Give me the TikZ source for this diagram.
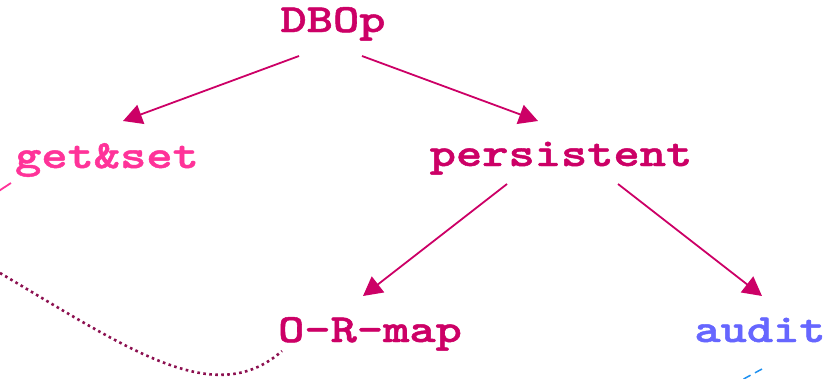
\documentclass[tikz,border=0pt]{standalone}
\usepackage{fontspec}
\usetikzlibrary{arrows.meta}
\newfontfamily\typew[FakeBold=1.1]{lmmonolt10-bold.otf}
\definecolor{deep}{RGB}{204,0,102}
\definecolor{pinkish}{RGB}{255,51,153}
\definecolor{lav}{RGB}{102,102,255}
\definecolor{maroon}{RGB}{140,16,80}
\definecolor{skyb}{RGB}{30,144,240}
% wide heavy typewriter lettering
\newcommand{\widetype}[1]{\scalebox{1.25}[1]{#1}}
\tikzset{
  lbl/.style={font=\typew\fontsize{40}{46}\selectfont, anchor=base, inner sep=0pt},
  link/.style={deep, line width=1.8pt, -{Triangle[length=19pt,width=20pt]}},
}
\begin{document}
\begin{tikzpicture}[x=1pt,y=-1pt]
\useasboundingbox (0,0) rectangle (840,378);
% labels
\node[lbl, deep]    (dbop)    at (333,32)  {\widetype{DBOp}};
\node[lbl, pinkish] (getset)  at (107,168) {\widetype{get\&set}};
\node[lbl, deep]    (persist) at (561,166) {\widetype{persistent}};
\node[lbl, deep]    (ormap)   at (370,342) {\widetype{O-R-map}};
\node[lbl, lav]     (audit)   at (760,342) {\widetype{audit}};
% connector ends
\coordinate (dbop-l) at (299,56);
\coordinate (dbop-r) at (362,56);
\coordinate (gs-in)  at (123,121);
\coordinate (ps-in)  at (538,121);
\coordinate (ps-l)   at (507,184);
\coordinate (ps-r)   at (618,184);
\coordinate (or-in)  at (363,296);
\coordinate (au-in)  at (762,296);
\coordinate (gs-out) at (11,183);
\coordinate (gs-far) at (-12,198);
\coordinate (lt-far) at (0,273);
\coordinate (or-out) at (282,351);
\coordinate (au-out) at (762,369);
\coordinate (au-far) at (738,382);
% hierarchy arrows
\draw[link] (dbop-l) -- (gs-in);
\draw[link] (dbop-r) -- (ps-in);
\draw[link] (ps-l) -- (or-in);
\draw[link] (ps-r) -- (au-in);
% outgoing curves
\draw[pinkish, line width=1.8pt] (gs-out) -- (gs-far);
\draw[maroon, line width=2.6pt, dash pattern=on 2.6pt off 3.4pt]
  (lt-far) .. controls (130,350) and (215,410) .. (or-out);
\draw[skyb, line width=1.5pt, dash pattern=on 8pt off 5pt] (au-out) -- (au-far);
\end{tikzpicture}
\end{document}
